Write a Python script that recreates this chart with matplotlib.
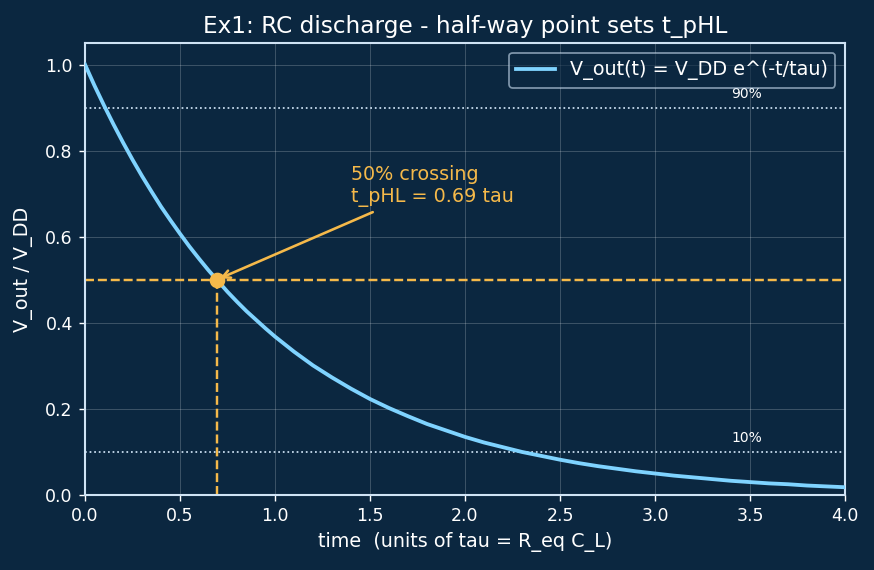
import matplotlib
matplotlib.use("Agg")
import matplotlib.pyplot as plt

# time in units of tau, and normalized output voltage
t_vals = [0.0, 0.05, 0.1, 0.15, 0.2, 0.25, 0.3, 0.35, 0.4, 0.45, 0.5, 0.55, 0.6, 0.65,
          0.7, 0.75, 0.8, 0.85, 0.9, 0.95,
          1.0, 1.1, 1.2, 1.3, 1.4, 1.5, 1.6, 1.7, 1.8, 1.9,
          2.0, 2.1, 2.2, 2.3, 2.4, 2.5, 2.6, 2.7, 2.8, 2.9,
          3.0, 3.1, 3.2, 3.3, 3.4, 3.5, 3.6, 3.7, 3.8, 3.9, 4.0]
v_vals = [1.000, 0.951, 0.905, 0.861, 0.819, 0.779, 0.741, 0.705, 0.670, 0.638, 0.607,
          0.577, 0.549, 0.522, 0.497, 0.472, 0.449, 0.427, 0.407, 0.387,
          0.368, 0.333, 0.301, 0.273, 0.247, 0.223, 0.202, 0.183, 0.165, 0.150,
          0.135, 0.122, 0.111, 0.100, 0.091, 0.082, 0.074, 0.067, 0.061, 0.055,
          0.050, 0.045, 0.041, 0.037, 0.033, 0.030, 0.027, 0.025, 0.022, 0.020, 0.018]
t_cross = 0.693
v_cross = 0.5
level_90 = 0.9
level_10 = 0.1

BG = "#0b2740"
FG = "#ffffff"
SPINE = "#cfe3f5"
CURVE = "#7fd3ff"
ORANGE = "#f5b94a"

fig = plt.figure(figsize=(874/125, 570/125), dpi=125, facecolor=BG)
ax = fig.add_axes([85/874, 1-495/570, 760/874, 452/570], facecolor=BG)

ax.plot(t_vals, v_vals, color=CURVE, lw=2.2, label="V_out(t) = V_DD e^(-t/tau)", zorder=3)
ax.axhline(v_cross, color=ORANGE, ls="--", lw=1.4, zorder=2)
ax.plot([t_cross, t_cross], [0, v_cross], color=ORANGE, ls="--", lw=1.4, zorder=2)
ax.plot([t_cross], [v_cross], "o", color=ORANGE, ms=8, zorder=4)

ax.axhline(level_90, color=SPINE, ls=":", lw=1.0, zorder=2)
ax.axhline(level_10, color=SPINE, ls=":", lw=1.0, zorder=2)
ax.text(3.4, level_90 + 0.015, "90%", color=FG, fontsize=8, va="bottom", ha="left")
ax.text(3.4, level_10 + 0.015, "10%", color=FG, fontsize=8, va="bottom", ha="left")

ax.annotate("50% crossing\nt_pHL = 0.69 tau", xy=(t_cross, v_cross), xytext=(1.4, 0.68),
            color=ORANGE, fontsize=11,
            arrowprops=dict(arrowstyle="->", color=ORANGE, lw=1.5))

ax.set_xlim(0, 4.0)
ax.set_ylim(0, 1.05)
ax.set_xticks([0.0, 0.5, 1.0, 1.5, 2.0, 2.5, 3.0, 3.5, 4.0])
ax.set_yticks([0.0, 0.2, 0.4, 0.6, 0.8, 1.0])
ax.grid(True, color=FG, alpha=0.2, lw=0.6)
ax.set_axisbelow(True)
for s in ax.spines.values():
    s.set_color(SPINE)
    s.set_linewidth(1.2)
ax.tick_params(colors=FG, labelsize=10)
for tl in ax.get_xticklines() + ax.get_yticklines():
    tl.set_color(SPINE)

ax.set_xlabel("time  (units of tau = R_eq C_L)", color=FG, fontsize=11)
ax.set_ylabel("V_out / V_DD", color=FG, fontsize=11, labelpad=7)
ax.set_title("Ex1: RC discharge - half-way point sets t_pHL", color=FG, fontsize=13.3)

leg = ax.legend(loc="upper right", fontsize=11, facecolor=BG, edgecolor=SPINE, framealpha=0.6)
for txt in leg.get_texts():
    txt.set_color(FG)
leg.get_frame().set_alpha(0.6)
leg.get_frame().set_edgecolor((0.81, 0.89, 0.96, 0.35))

fig.savefig("out.png", dpi=125, facecolor=BG)
